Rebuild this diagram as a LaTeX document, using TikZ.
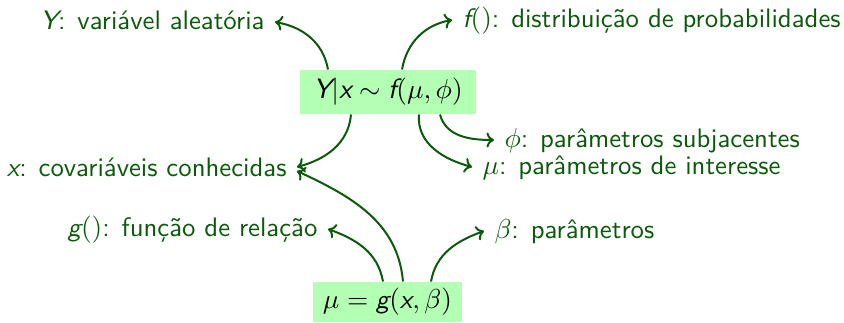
\documentclass[tikz,border=0pt]{standalone}
\usepackage{fontspec}
\usetikzlibrary{arrows.meta}
\definecolor{dg}{RGB}{10,90,10}
\definecolor{lg}{RGB}{179,255,179}
\newcommand{\sv}[1]{\mbox{\sffamily\itshape #1}}
\begin{document}
\begin{tikzpicture}[x=0.4pt,y=-0.4pt,
  font=\sffamily\fontsize{10.7}{12}\selectfont,
  lab/.style={text=dg, inner xsep=4pt, inner ysep=0pt, text height=7.6pt, text depth=2pt},
  box/.style={fill=lg, text=black, inner sep=0pt},
  arr/.style={draw=dg, line width=0.8pt, -{To[length=3pt,width=6pt]}}]
\useasboundingbox (0,0) rectangle (844,322);
\node[box, minimum width=70.4pt, minimum height=17.6pt, font=\sffamily\fontsize{11.2}{13}\selectfont] (top) at (388,92) {$\sv{Y}|\sv{x}\sim\sv{f}(\mu,\phi)$};
\node[box, minimum width=59.6pt, minimum height=16pt] (bot) at (387.5,302) {$\mu=\sv{g}(\sv{x},\beta)$};
\node[lab, anchor=base east] (ylab) at (275,29) {$\sv{Y}$: variável aleatória};
\node[lab, anchor=base west] (flab) at (452,27) {$\sv{f}()$: distribuição de probabilidades};
\node[lab, anchor=base west] (philab) at (494,147) {$\phi$: parâmetros subjacentes};
\node[lab, anchor=base west] (mulab) at (472,174) {$\mu$: parâmetros de interesse};
\node[lab, anchor=base east] (xlab) at (297,176) {$\sv{x}$: covariáveis conhecidas};
\node[lab, anchor=base east] (glab) at (328,236) {$\sv{g}()$: função de relação};
\node[lab, anchor=base west] (betalab) at (484,238) {$\beta$: parâmetros};
\draw[arr] ([xshift=-24pt]top.north) to[out=100,in=-10] (ylab.east);
\draw[arr] ([xshift=5.6pt]top.north) to[out=80,in=190] (flab.west);
\draw[arr] ([xshift=20.8pt]top.south) to[out=-75,in=180] (philab.west);
\draw[arr] ([xshift=12.4pt]top.south) to[out=-95,in=165] (mulab.west);
\draw[arr] ([xshift=-14.8pt]top.south) to[out=-95,in=15] ([yshift=0.8pt]xlab.east);
\draw[arr] ([xshift=6.2pt]bot.north) to[out=95,in=-25] ([yshift=-0.8pt]xlab.east);
\draw[arr] ([xshift=-1.8pt]bot.north) to[out=100,in=-20] (glab.east);
\draw[arr] ([xshift=17.4pt]bot.north) to[out=80,in=200] (betalab.west);
\end{tikzpicture}
\end{document}
